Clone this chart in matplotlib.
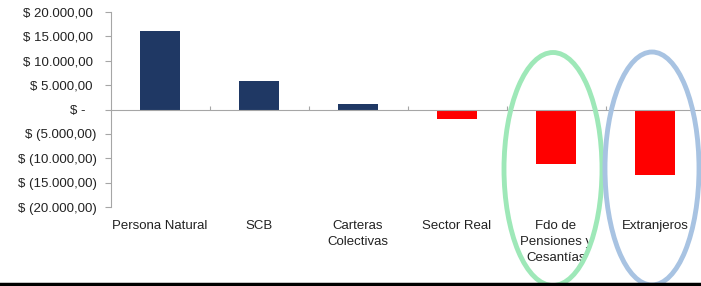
import matplotlib
matplotlib.use('Agg')
import matplotlib.pyplot as plt
from matplotlib.patches import Ellipse
from matplotlib.lines import Line2D
from matplotlib.ticker import FuncFormatter

categories = ['Persona Natural', 'SCB', 'Carteras\nColectivas', 'Sector Real',
              'Fdo de\nPensiones y\nCesantías', 'Extranjeros']
values = [16100, 5850, 1100, -1950, -11200, -13400]
yticks = [20000, 15000, 10000, 5000, 0, -5000, -10000, -15000, -20000]

NAVY = '#1f3864'
RED = '#ff0000'
GRAY = '#a6a6a6'


def money(v, pos=None):
    if v == 0:
        return '$ -   '
    s = '{:,.2f}'.format(abs(v)).replace(',', 'X').replace('.', ',').replace('X', '.')
    if v < 0:
        return '$ (' + s + ')'
    return '$ ' + s + ' '


plt.rcParams['font.family'] = ['Liberation Sans', 'DejaVu Sans']

W, H = 701, 286
fig = plt.figure(figsize=(W / 100, H / 100), dpi=100)
ax = fig.add_axes([110.5 / W, (H - 207) / H, 594 / W, 195 / H])

colors = [NAVY if v >= 0 else RED for v in values]
x = list(range(len(categories)))
ax.bar(x, values, width=0.4, color=colors, zorder=2)

ax.set_xlim(-0.5, 5.5)
ax.set_ylim(-20000, 20000)
ax.set_yticks(yticks)
ax.yaxis.set_major_formatter(FuncFormatter(money))
ax.tick_params(axis='y', length=4, color=GRAY, labelsize=9.5, pad=6, labelcolor='#222222')

ax.spines['top'].set_visible(False)
ax.spines['right'].set_visible(False)
ax.spines['left'].set_color(GRAY)
ax.spines['bottom'].set_position(('data', 0))
ax.spines['bottom'].set_color(GRAY)
ax.set_xticks([i + 0.5 for i in range(len(categories) - 1)])
ax.set_xticklabels([])
ax.tick_params(axis='x', direction='in', length=3, color=GRAY)

for i, c in enumerate(categories):
    ax.text(i, -22700, c, ha='center', va='top', fontsize=9.5, color='#222222',
            linespacing=1.45, clip_on=False)

# highlight ellipses
fig.add_artist(Ellipse((553 / W, 1 - 169 / H), 98 / W, 233 / H, fill=False,
                       edgecolor='#9ee8b8', linewidth=3.5, transform=fig.transFigure))
fig.add_artist(Ellipse((652 / W, 1 - 168.5 / H), 94 / W, 233 / H, fill=False,
                       edgecolor='#a8c3e2', linewidth=3.5, transform=fig.transFigure))

fig.add_artist(Line2D([0, 700 / W], [1 - 284 / H, 1 - 284 / H], color='black',
                      linewidth=2.5, transform=fig.transFigure))

fig.savefig('out.png', dpi=100)
